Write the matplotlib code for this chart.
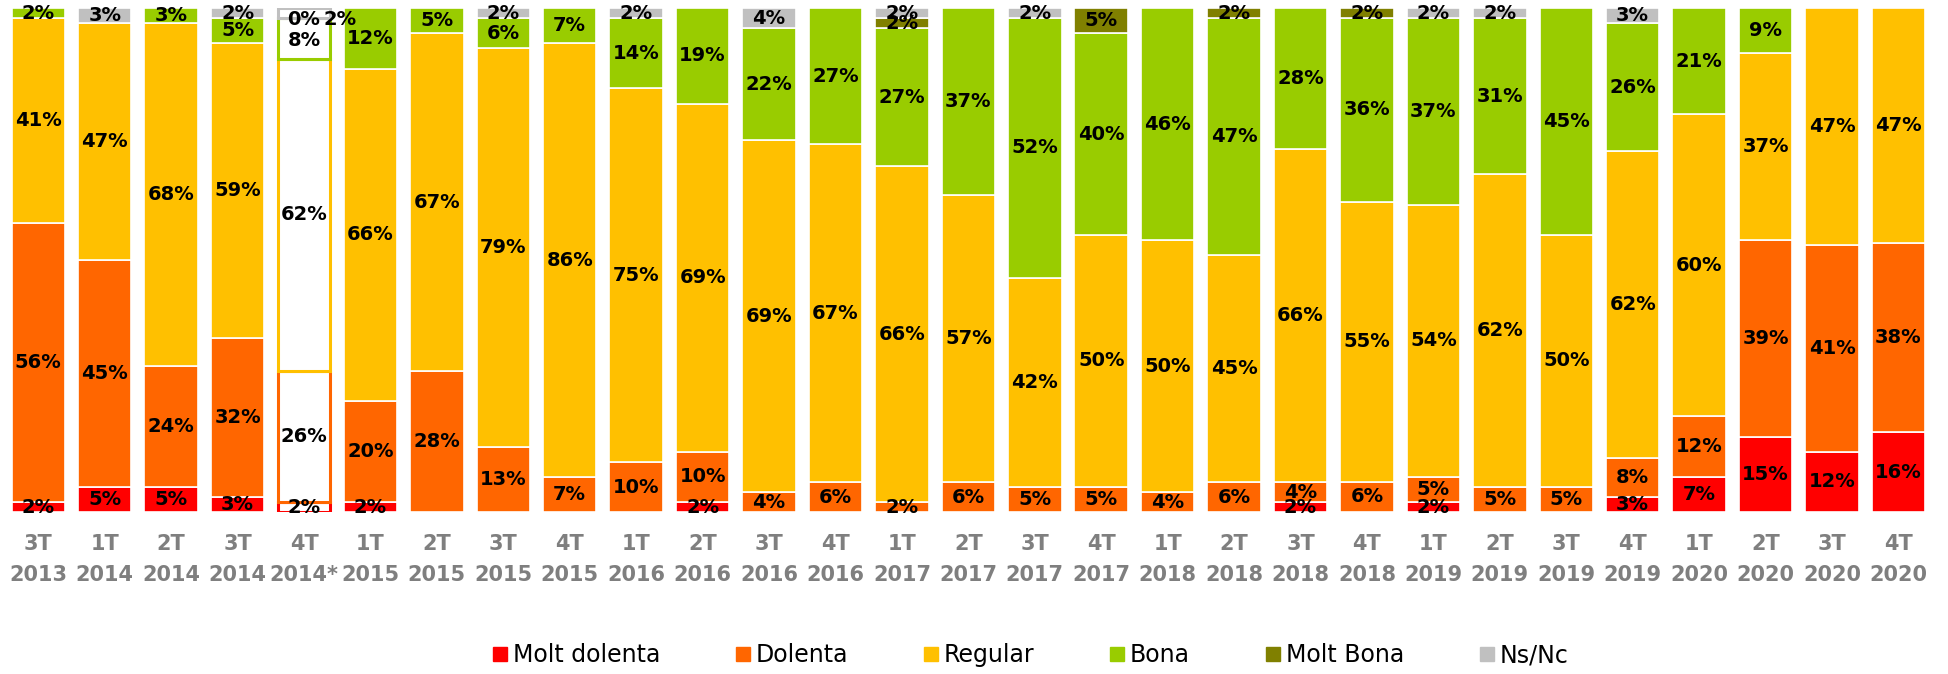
import matplotlib
matplotlib.use("Agg")
import matplotlib.pyplot as plt
from matplotlib.lines import Line2D
import numpy as np

quarters = ["3T", "1T", "2T", "3T", "4T", "1T", "2T", "3T", "4T", "1T", "2T", "3T", "4T", "1T", "2T",
            "3T", "4T", "1T", "2T", "3T", "4T", "1T", "2T", "3T", "4T", "1T", "2T", "3T", "4T"]
years = ["2013", "2014", "2014", "2014", "2014*", "2015", "2015", "2015", "2015", "2016", "2016", "2016",
         "2016", "2017", "2017", "2017", "2017", "2018", "2018", "2018", "2018", "2019", "2019", "2019",
         "2019", "2020", "2020", "2020", "2020"]

series_names = ["Molt dolenta", "Dolenta", "Regular", "Bona", "Molt Bona", "Ns/Nc"]
molt_dolenta = [2, 5, 5, 3, 2, 2, 0, 0, 0, 0, 2, 0, 0, 0, 0, 0, 0, 0, 0, 2, 0, 2, 0, 0, 3, 7, 15, 12, 16]
dolenta      = [56, 45, 24, 32, 26, 20, 28, 13, 7, 10, 10, 4, 6, 2, 6, 5, 5, 4, 6, 4, 6, 5, 5, 5, 8, 12, 39, 41, 38]
regular      = [41, 47, 68, 59, 62, 66, 67, 79, 86, 75, 69, 69, 67, 66, 57, 42, 50, 50, 45, 66, 55, 54, 62, 50, 62, 60, 37, 47, 47]
bona         = [2, 0, 3, 5, 8, 12, 5, 6, 7, 14, 19, 22, 27, 27, 37, 52, 40, 46, 47, 28, 36, 37, 31, 45, 26, 21, 9, 0, 0]
molt_bona    = [0, 0, 0, 0, 0, 0, 0, 0, 0, 0, 0, 0, 0, 2, 0, 0, 5, 0, 2, 0, 2, 0, 0, 0, 0, 0, 0, 0, 0]
ns_nc        = [0, 3, 0, 2, 2, 0, 0, 2, 0, 2, 0, 4, 0, 2, 0, 2, 0, 0, 0, 0, 0, 2, 2, 0, 3, 0, 0, 0, 0]

colors = ["#FF0000", "#FF6600", "#FFC000", "#99CC00", "#808000", "#C0C0C0"]
special_idx = 4  # 4T 2014*: outlined bar

data = np.array([molt_dolenta, dolenta, regular, bona, molt_bona, ns_nc], dtype=float)
totals = data.sum(axis=0)
norm = data / totals * 100.0

fig = plt.figure(figsize=(19.48, 6.74), dpi=100)
ax = fig.add_axes([0.0026, 0.240, 0.989, 0.748])

x = np.arange(len(quarters))
width = 0.805
bottom = np.zeros(len(quarters))
for s in range(len(series_names)):
    vals = norm[s]
    for i in range(len(x)):
        if i == special_idx:
            if data[s, i] > 0:
                ax.bar(x[i], vals[i], width=width * 0.96, bottom=bottom[i], color="white",
                       edgecolor=colors[s], linewidth=2.2, zorder=2)
        elif vals[i] > 0:
            ax.bar(x[i], vals[i], width=width, bottom=bottom[i], color=colors[s],
                   edgecolor="white", linewidth=1.2, zorder=2)
        show = data[s, i] > 0 or (i == special_idx and s == 4)
        if show:
            xc = x[i]
            yc = bottom[i] + vals[i] / 2
            if i == special_idx and s == 4:
                yc = bottom[i] - 0.3
            if i == special_idx and s == 5:
                xc = x[i] + 0.55
                yc = bottom[i] - 0.3
            if i == special_idx and s == 3:
                yc = bottom[i] + vals[i] / 2 - 0.5
            ax.text(xc, yc, f"{int(data[s, i])}%", ha="center", va="center",
                    fontsize=14, fontweight="bold", color="black", zorder=5,
                    family="DejaVu Sans")
    bottom += vals

ax.set_xlim(-0.5, len(x) - 0.5)
ax.set_ylim(0, 100)
ax.set_xticks(x)
ax.set_xticklabels([f"{q}\n{y}" for q, y in zip(quarters, years)], fontsize=15,
                   fontweight="bold", color="#7F7F7F", linespacing=1.65)
ax.tick_params(axis="x", length=0, pad=16)
ax.set_yticks([])
for sp in ax.spines.values():
    sp.set_visible(False)

handles = [Line2D([0], [0], marker="s", linestyle="none", markersize=9.5,
                  markerfacecolor=c, markeredgecolor=c) for c in colors]
fig.legend(handles, series_names, loc="center", bbox_to_anchor=(0.529, 0.028), ncol=6,
           frameon=False, fontsize=17, handlelength=0.6, handletextpad=0.25,
           columnspacing=3.2)

fig.savefig("out.png", dpi=100)
